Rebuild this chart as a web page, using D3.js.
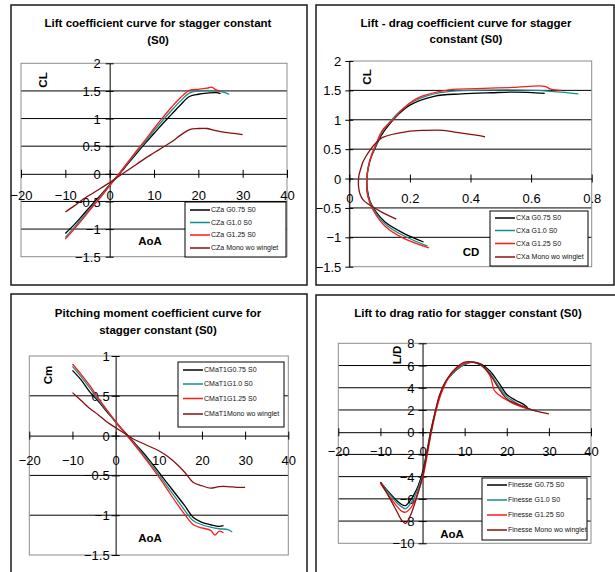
<!DOCTYPE html>
<html>
<head>
<meta charset="utf-8">
<script src="https://cdn.jsdelivr.net/npm/d3@7"></script>
<style>
  body { margin: 0; background: #fff; }
  text { font-family: "Liberation Sans", Arial, sans-serif; }
</style>
</head>
<body>
<svg id="fig" width="615" height="572"></svg>
<script>
// angle of attack grids (deg)
const aoaG075 = [-10,-8,-6,-4,-2,0,2,4,6,8,10,12,14,16,18,20,22,24,25];
const aoaG10  = [-10,-8,-6,-4,-2,0,2,4,6,8,10,12,14,16,18,20,22,24,26,27];
const aoaG125 = [-10,-8,-6,-4,-2,0,2,4,6,8,10,12,14,16,18,20,22,23,24,25];
const aoaMono = [-10,-8,-6,-4,-2,0,2,4,6,8,10,12,14,16,18,20,22,24,26,28,30];

// lift coefficient
const clG075 = [-1.08,-0.92,-0.74,-0.56,-0.38,-0.2,-0.02,0.17,0.36,0.55,0.73,0.91,1.08,1.25,1.40,1.44,1.46,1.47,1.45];
const clG10  = [-1.15,-0.97,-0.78,-0.59,-0.40,-0.21,-0.01,0.19,0.39,0.58,0.78,0.97,1.15,1.32,1.46,1.50,1.51,1.50,1.47,1.44];
const clG125 = [-1.18,-1.0,-0.81,-0.61,-0.42,-0.22,-0.01,0.2,0.41,0.61,0.82,1.02,1.21,1.38,1.51,1.53,1.55,1.57,1.52,1.50];
const clMono = [-0.69,-0.58,-0.46,-0.36,-0.26,-0.16,-0.05,0.06,0.17,0.28,0.38,0.48,0.58,0.70,0.80,0.82,0.82,0.78,0.75,0.73,0.71];

// drag coefficient
const cdG075 = [0.245,0.175,0.118,0.087,0.068,0.06,0.058,0.062,0.072,0.088,0.105,0.13,0.16,0.20,0.28,0.37,0.47,0.55,0.645];
const cdG10  = [0.258,0.178,0.12,0.088,0.068,0.059,0.058,0.062,0.073,0.089,0.107,0.135,0.168,0.215,0.30,0.40,0.51,0.62,0.70,0.756];
const cdG125 = [0.263,0.173,0.118,0.087,0.068,0.058,0.058,0.063,0.074,0.09,0.109,0.148,0.182,0.23,0.33,0.42,0.54,0.645,0.665,0.70];
const cdMono = [0.155,0.11,0.07,0.045,0.035,0.031,0.03,0.032,0.038,0.045,0.055,0.068,0.083,0.11,0.19,0.25,0.31,0.36,0.40,0.43,0.448];

// pitching moment coefficient
const cmG075 = [0.82,0.70,0.55,0.43,0.30,0.17,0.05,-0.07,-0.19,-0.32,-0.46,-0.60,-0.74,-0.88,-1.03,-1.09,-1.12,-1.14,-1.13];
const cmG10  = [0.87,0.74,0.60,0.45,0.31,0.17,0.04,-0.08,-0.21,-0.35,-0.49,-0.64,-0.79,-0.94,-1.07,-1.12,-1.15,-1.17,-1.18,-1.21];
const cmG125 = [0.90,0.77,0.63,0.47,0.32,0.18,0.04,-0.09,-0.23,-0.37,-0.52,-0.68,-0.84,-0.99,-1.12,-1.16,-1.19,-1.25,-1.20,-1.22];
const cmMono = [0.54,0.44,0.34,0.26,0.17,0.10,0.03,-0.04,-0.09,-0.14,-0.19,-0.26,-0.35,-0.46,-0.59,-0.63,-0.66,-0.64,-0.64,-0.65,-0.65];

// lift to drag ratio (finer grid near the negative peak)
const ldAoaG075 = [-10,-8,-6,-5,-4,-3,-2,-1,0,1,2,3,4,5,6,8,10,12,14,16,18,20,22,24,25];
const ldG075    = [-4.5,-5.4,-6.2,-6.5,-6.6,-6.2,-5.6,-4.8,-3.6,-1.8,0.2,1.8,3.2,4.2,4.8,5.6,6.1,6.3,6.1,5.5,4.5,3.4,2.9,2.5,2.2];
const ldAoaG10  = [-10,-8,-6,-5,-4,-3,-2,-1,0,1,2,3,4,5,6,8,10,12,14,16,18,20,22,24,26,27];
const ldG10     = [-4.5,-5.5,-6.4,-6.7,-6.9,-6.5,-5.9,-5.0,-3.9,-2.0,0.0,1.7,3.1,4.1,4.8,5.6,6.1,6.3,6.0,5.3,4.2,3.2,2.7,2.3,2.0,1.9];
const ldAoaG125 = [-10,-8,-6,-5,-4,-3,-2,-1,0,1,2,3,4,5,6,8,10,12,14,16,17,18,20,22,24,25];
const ldG125    = [-4.6,-5.7,-6.7,-7.1,-7.2,-6.9,-6.3,-5.3,-4.2,-2.3,-0.2,1.6,3.0,4.0,4.8,5.7,6.2,6.3,6.0,5.1,3.8,3.4,2.9,2.5,2.2,2.1];
const ldAoaMono = [-10,-8,-6,-5,-4,-3,-2,-1,0,1,2,3,4,5,6,8,10,12,14,16,18,20,22,24,26,28,30];
const ldMono    = [-4.5,-5.8,-7.2,-7.9,-8.2,-7.6,-6.6,-5.4,-4.0,-2.0,0.0,1.8,3.3,4.2,4.9,5.8,6.3,6.3,6.0,5.2,4.0,3.0,2.6,2.3,2.0,1.8,1.65];

// ticks
const aoaTicks = [-20,-10,0,10,20,30,40];
const clTicks = [-1.5,-1,-0.5,0,0.5,1,1.5,2];
const cdTicks = [0,0.2,0.4,0.6,0.8];
const cmTicks = [-1.5,-1,-0.5,0,0.5,1];
const ldTicks = [-10,-8,-6,-4,-2,0,2,4,6,8];

const colors = ["#000000", "#138f8f", "#ff1a1a", "#8b0f0f"];

const svg = d3.select("#fig");

function drawPanel(p) {
    const g = svg.append("g");

    // outer chart frame
    g.append("rect")
        .attr("x", p.box[0]).attr("y", p.box[1])
        .attr("width", p.box[2] - p.box[0]).attr("height", p.box[3] - p.box[1])
        .attr("fill", "#fff").attr("stroke", "#1a1a1a").attr("stroke-width", 1.5);

    p.title.forEach((t, i) => {
        g.append("text")
            .attr("x", p.titleX).attr("y", p.titleY[i])
            .attr("text-anchor", "middle")
            .attr("font-size", 11.5).attr("font-weight", "bold")
            .text(t);
    });

    const x = d3.scaleLinear().domain(p.xDomain).range(p.xRange);
    const y = d3.scaleLinear().domain(p.yDomain).range(p.yRange);

    // grid
    p.yTicks.filter(v => v !== 0 && v !== p.yDomain[0] && v !== p.yDomain[1]).forEach(v => {
        g.append("line")
            .attr("x1", p.xRange[0]).attr("x2", p.xRange[1])
            .attr("y1", y(v)).attr("y2", y(v))
            .attr("stroke", "#000").attr("stroke-width", 1);
    });
    g.append("rect")
        .attr("x", p.xRange[0]).attr("y", p.yRange[1])
        .attr("width", p.xRange[1] - p.xRange[0]).attr("height", p.yRange[0] - p.yRange[1])
        .attr("fill", "none").attr("stroke", "#8c8c8c").attr("stroke-width", 1);

    // axes cross at zero
    const axX = g.append("g")
        .attr("transform", `translate(0,${y(0)})`)
        .call(d3.axisBottom(x).tickValues(p.xTicks).tickSizeInner(4).tickSizeOuter(0).tickFormat(d3.format("")));
    axX.selectAll(".tick line").attr("y1", -4).attr("stroke", "#000");
    axX.select(".domain").attr("stroke", "#000");
    axX.selectAll(".tick text")
        .attr("y", p.xLabelDy).attr("dy", 0)
        .attr("font-size", 13).attr("font-family", null).attr("fill", "#000");

    const axY = g.append("g")
        .attr("transform", `translate(${x(0)},0)`)
        .call(d3.axisLeft(y).tickValues(p.yTicks).tickSizeInner(4).tickSizeOuter(0).tickFormat(d3.format("")));
    axY.selectAll(".tick line").attr("x1", 4).attr("stroke", "#000");
    axY.select(".domain").attr("stroke", "#000");
    axY.selectAll(".tick text")
        .attr("x", -p.yLabelGap).attr("dy", "0.35em")
        .attr("font-size", 13).attr("font-family", null).attr("fill", "#000");

    // series
    const line = d3.line()
        .x(d => x(d[0])).y(d => y(d[1]))
        .curve(d3.curveCatmullRom.alpha(0.5));
    p.series.forEach((s, i) => {
        g.append("path")
            .datum(d3.zip(s.x, s.y))
            .attr("fill", "none")
            .attr("stroke", colors[i])
            .attr("stroke-width", 1.3)
            .attr("d", line);
    });

    // axis titles
    g.append("text")
        .attr("transform", `translate(${p.yLabPos[0]},${p.yLabPos[1]}) rotate(-90)`)
        .attr("text-anchor", "middle").attr("dy", "0.35em")
        .attr("font-size", 11.5).attr("font-weight", "bold")
        .text(p.yLab);
    g.append("text")
        .attr("x", p.xLabPos[0]).attr("y", p.xLabPos[1])
        .attr("text-anchor", "middle").attr("dy", "0.35em")
        .attr("font-size", 11.5).attr("font-weight", "bold")
        .text(p.xLab);

    // legend
    const L = p.legend;
    g.append("rect")
        .attr("x", L.x).attr("y", L.y).attr("width", L.w).attr("height", L.h)
        .attr("fill", "#fff").attr("stroke", "#000").attr("stroke-width", 1);
    p.series.forEach((s, i) => {
        const ry = L.rows[i];
        g.append("line")
            .attr("x1", L.x + 5).attr("x2", L.x + 25)
            .attr("y1", ry).attr("y2", ry)
            .attr("stroke", colors[i]).attr("stroke-width", 1.5);
        g.append("text")
            .attr("x", L.x + 26).attr("y", ry).attr("dy", "0.35em")
            .attr("font-size", 7).attr("fill", "#111")
            .text(s.name);
    });
}

drawPanel({
    box: [11, 5, 307, 285],
    title: ["Lift coefficient curve for stagger constant", "(S0)"],
    titleX: 158, titleY: [27, 44],
    xDomain: [-20, 40], xRange: [21, 287],
    yDomain: [-1.5, 2], yRange: [256.7, 63.3],
    xTicks: aoaTicks, yTicks: clTicks,
    xLabelDy: 26, yLabelGap: 9,
    yLab: "CL", yLabPos: [43, 80],
    xLab: "AoA", xLabPos: [150, 241],
    legend: {x: 185, y: 202, w: 101, h: 55, rows: [210, 222.5, 235, 248]},
    series: [
        {name: "CZa G0.75 S0", x: aoaG075, y: clG075},
        {name: "CZa G1.0 S0", x: aoaG10, y: clG10},
        {name: "CZa G1.25 S0", x: aoaG125, y: clG125},
        {name: "CZa Mono wo winglet", x: aoaMono, y: clMono}
    ]
});

drawPanel({
    box: [316, 5, 614, 285],
    title: ["Lift - drag coefficient curve for stagger", "constant (S0)"],
    titleX: 466, titleY: [27, 43],
    xDomain: [0, 0.8], xRange: [349.3, 591.7],
    yDomain: [-1.5, 2], yRange: [266.7, 61],
    xTicks: cdTicks, yTicks: clTicks,
    xLabelDy: 24, yLabelGap: 8,
    yLab: "CL", yLabPos: [367, 77],
    xLab: "CD", xLabPos: [471, 252],
    legend: {x: 490, y: 211, w: 98, h: 55, rows: [218, 230.5, 243.5, 257]},
    series: [
        {name: "CXa G0.75 S0", x: cdG075, y: clG075},
        {name: "CXa G1.0 S0", x: cdG10, y: clG10},
        {name: "CXa G1.25 S0", x: cdG125, y: clG125},
        {name: "CXa Mono wo winglet", x: cdMono, y: clMono}
    ]
});

drawPanel({
    box: [11, 294, 307, 600],
    title: ["Pitching moment coefficient curve for", "stagger constant (S0)"],
    titleX: 158, titleY: [317, 334],
    xDomain: [-20, 40], xRange: [29.3, 288.3],
    yDomain: [-1.5, 1], yRange: [555, 356],
    xTicks: aoaTicks, yTicks: cmTicks,
    xLabelDy: 29, yLabelGap: 6,
    yLab: "Cm", yLabPos: [48, 375],
    xLab: "AoA", xLabPos: [150, 538],
    legend: {x: 178, y: 362, w: 106, h: 65, rows: [370, 384, 398.5, 414]},
    series: [
        {name: "CMaT1G0.75 S0", x: aoaG075, y: cmG075},
        {name: "CMaT1G1.0 S0", x: aoaG10, y: cmG10},
        {name: "CMaT1G1.25 S0", x: aoaG125, y: cmG125},
        {name: "CMaT1Mono wo winglet", x: aoaMono, y: cmMono}
    ]
});

drawPanel({
    box: [316, 295, 640, 600],
    title: ["Lift to drag ratio for stagger constant (S0)"],
    titleX: 468, titleY: [317],
    xDomain: [-20, 40], xRange: [338.3, 591],
    yDomain: [-10, 8], yRange: [543.3, 343.3],
    xTicks: aoaTicks, yTicks: ldTicks,
    xLabelDy: 24, yLabelGap: 8,
    yLab: "L/D", yLabPos: [397, 355],
    xLab: "AoA", xLabPos: [452, 534],
    legend: {x: 482, y: 478, w: 105, h: 62, rows: [485, 500, 515, 530]},
    series: [
        {name: "Finesse G0.75 S0", x: ldAoaG075, y: ldG075},
        {name: "Finesse G1.0 S0", x: ldAoaG10, y: ldG10},
        {name: "Finesse G1.25 S0", x: ldAoaG125, y: ldG125},
        {name: "Finesse Mono wo winglet", x: ldAoaMono, y: ldMono}
    ]
});
</script>
</body>
</html>
